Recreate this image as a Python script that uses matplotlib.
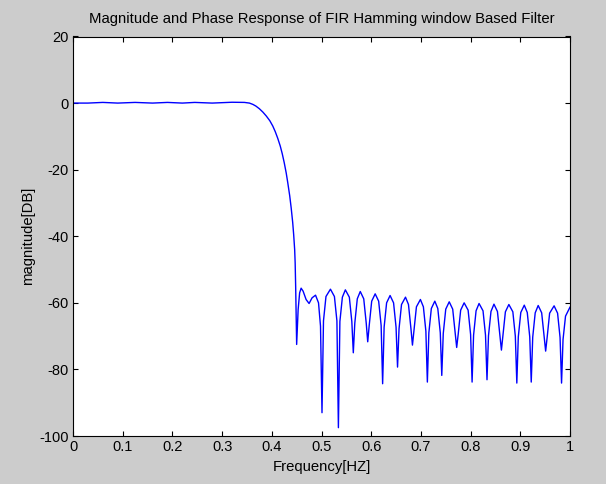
import matplotlib
matplotlib.use("Agg")
import matplotlib.pyplot as plt

plt.rcParams['font.family'] = ['Liberation Sans', 'DejaVu Sans']

freq = [
    0.000, 0.030, 0.060, 0.090, 0.125, 0.160, 0.190, 0.220, 0.245, 0.280,
    0.320, 0.345, 0.355, 0.362, 0.368, 0.375, 0.382, 0.389, 0.396, 0.402,
    0.407, 0.412, 0.417, 0.421, 0.425, 0.429, 0.432, 0.436, 0.439, 0.442,
    0.444, 0.446, 0.447, 0.448, 0.450,
    0.453, 0.456, 0.459, 0.463, 0.469, 0.475, 0.481, 0.488, 0.494, 0.498, 0.501,
    0.504, 0.509, 0.518, 0.526, 0.531, 0.534,
    0.537, 0.542, 0.548, 0.556, 0.561, 0.564,
    0.567, 0.572, 0.578, 0.585, 0.590, 0.593,
    0.596, 0.601, 0.608, 0.615, 0.620, 0.623,
    0.626, 0.631, 0.638, 0.645, 0.650, 0.653,
    0.656, 0.661, 0.669, 0.675, 0.680, 0.683,
    0.686, 0.691, 0.699, 0.705, 0.710, 0.713,
    0.716, 0.721, 0.728, 0.734, 0.739, 0.742,
    0.745, 0.750, 0.757, 0.764, 0.769, 0.772,
    0.775, 0.780, 0.787, 0.795, 0.800, 0.803,
    0.806, 0.811, 0.817, 0.825, 0.830, 0.833,
    0.836, 0.841, 0.847, 0.854, 0.859, 0.862,
    0.865, 0.870, 0.877, 0.885, 0.890, 0.893,
    0.896, 0.901, 0.908, 0.914, 0.919, 0.922,
    0.925, 0.930, 0.936, 0.943, 0.948, 0.951,
    0.954, 0.959, 0.968, 0.975, 0.980, 0.983,
    0.986, 0.991, 1.000,
]

magnitude_db = [
    0.0, 0.0, 0.2, 0.0, 0.2, 0.0, 0.2, 0.0, 0.2, 0.0,
    0.25, 0.2, 0.0, -0.4, -0.9, -1.7, -2.7, -3.9, -5.3, -6.9,
    -8.6, -10.6, -12.9, -15.2, -17.9, -21.0, -23.8, -27.8, -31.5, -35.8,
    -39.5, -44.0, -48.0, -55.0, -72.5,
    -62.0, -57.0, -55.6, -56.5, -59.0, -60.2, -58.5, -57.7, -60.0, -67.0, -93.0,
    -65.4, -58.1, -55.9, -58.1, -65.4, -97.5,
    -65.6, -58.3, -56.1, -58.3, -65.6, -75.0,
    -66.1, -58.8, -56.6, -58.8, -66.1, -71.7,
    -66.8, -59.5, -57.3, -59.5, -66.8, -84.3,
    -67.3, -60.0, -57.8, -60.0, -67.3, -79.3,
    -67.8, -60.5, -58.3, -60.5, -67.8, -72.7,
    -68.5, -61.2, -59.0, -61.2, -68.5, -83.8,
    -69.0, -61.7, -59.5, -61.7, -69.0, -81.8,
    -69.2, -61.9, -59.7, -61.9, -69.2, -73.4,
    -69.5, -62.2, -60.0, -62.2, -69.5, -83.8,
    -69.7, -62.4, -60.2, -62.4, -69.7, -83.1,
    -69.9, -62.6, -60.4, -62.6, -69.9, -74.2,
    -70.0, -62.7, -60.5, -62.7, -70.0, -84.1,
    -70.2, -62.9, -60.7, -62.9, -70.2, -83.8,
    -70.3, -63.0, -60.8, -63.0, -70.3, -74.5,
    -70.4, -63.1, -60.9, -63.1, -70.4, -84.1,
    -71.0, -64.0, -61.3,
]

xticks = [0, 0.1, 0.2, 0.3, 0.4, 0.5, 0.6, 0.7, 0.8, 0.9, 1]
xticklabels = ['0', '0.1', '0.2', '0.3', '0.4', '0.5', '0.6', '0.7', '0.8', '0.9', '1']
yticks = [-100, -80, -60, -40, -20, 0, 20]
yticklabels = ['-100', '-80', '-60', '-40', '-20', '0', '20']

fig = plt.figure(figsize=(6.06, 4.84), dpi=100, facecolor='#cccccc')
ax = fig.add_axes([73/606, 1 - 436/484, (570 - 73)/606, (436 - 36.5)/484])
ax.set_facecolor('white')
ax.plot(freq, magnitude_db, color='#0000ff', linewidth=1.0)

ax.set_xlim(0, 1)
ax.set_ylim(-100, 20)
ax.set_xticks(xticks)
ax.set_xticklabels(xticklabels)
ax.set_yticks(yticks)
ax.set_yticklabels(yticklabels)
ax.tick_params(direction='in', length=3.5, width=0.8, top=True, right=True,
               labelsize=10.5, colors='black', pad=3)
for s in ax.spines.values():
    s.set_linewidth(0.8)
    s.set_color('black')

ax.set_title('Magnitude and Phase Response of FIR Hamming window Based Filter',
             fontsize=10.7, pad=10)
ax.set_xlabel('Frequency[HZ]', fontsize=10.7, labelpad=4)
ax.set_ylabel('magnitude[DB]', fontsize=10.7, labelpad=3)

fig.savefig('out.png', dpi=100, facecolor=fig.get_facecolor())
